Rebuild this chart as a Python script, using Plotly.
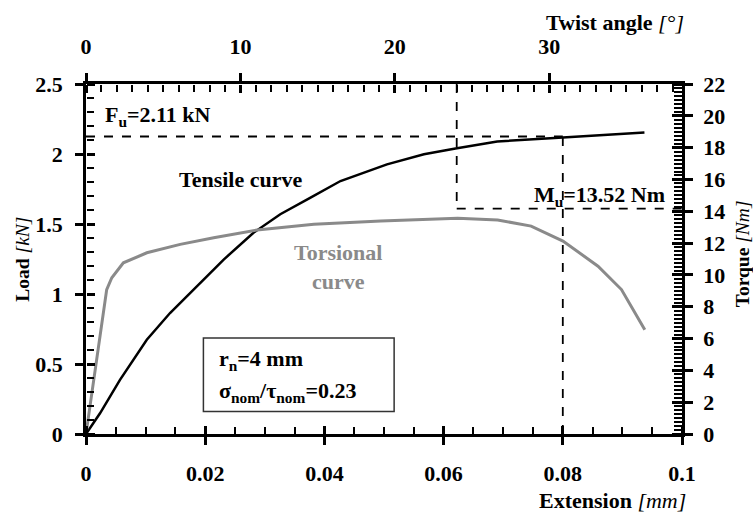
import plotly.graph_objects as go

# ---- data ----
ext_tensile = [0, 0.00235, 0.0057, 0.0102, 0.0141, 0.0186, 0.0231, 0.0281, 0.0326,
               0.0376, 0.0427, 0.0505, 0.0567, 0.062, 0.069, 0.08, 0.0886, 0.0937]
load_tensile = [0, 0.148, 0.387, 0.673, 0.864, 1.055, 1.246, 1.437, 1.57,
                1.687, 1.807, 1.926, 1.998, 2.04, 2.09, 2.118, 2.142, 2.154]

angle_torsion = [0, 1.34, 1.67, 2.42, 3.94, 6.1, 8.27, 11.08, 14.76, 19.09,
                 24.07, 26.66, 28.83, 30.89, 33.16, 34.68, 36.19]
torque_torsion = [0, 9.08, 9.82, 10.76, 11.39, 11.92, 12.34, 12.82, 13.18, 13.39,
                  13.56, 13.45, 13.07, 12.13, 10.55, 9.08, 6.56]

x_range = [0, 0.1]
y_range = [0, 2.5]
x2_range = [0, 38.6]
y2_range = [0, 22]
x_dtick, y_dtick, x2_dtick, y2_dtick = 0.02, 0.5, 10, 2
x_minor, y_minor, x2_minor, y2_minor = 0.005, 0.1, 1, 0.25

Fu = 2.125          # dashed level of ultimate load
ext_Fu = 0.08
ext_Mu = 0.0622
Mu_load_level = 1.61

FONT = "Liberation Serif"
FS = 22
LW = 2.5

fig = go.Figure()
fig.add_trace(go.Scatter(x=ext_tensile, y=load_tensile, mode="lines",
                         line=dict(color="black", width=2.5),
                         xaxis="x", yaxis="y", showlegend=False))
fig.add_trace(go.Scatter(x=angle_torsion, y=torque_torsion, mode="lines",
                         line=dict(color="#8a8a8a", width=3),
                         xaxis="x2", yaxis="y2", showlegend=False))

tickfont = dict(family=FONT, size=FS, color="black", weight="bold")

common = dict(showgrid=False, zeroline=False, showline=True, linecolor="black",
              linewidth=LW, ticks="outside", ticklen=8, tickwidth=LW,
              tickcolor="black", tickfont=tickfont, tickmode="linear", tick0=0)

fig.update_layout(
    width=753, height=512,
    margin=dict(l=86, r=71, t=84, b=78),
    plot_bgcolor="white", paper_bgcolor="white",
    xaxis=dict(range=x_range, dtick=x_dtick, anchor="y", side="bottom",
               ticklabelstandoff=10, **common),
    yaxis=dict(range=y_range, dtick=y_dtick, anchor="x", side="left",
               ticklabelstandoff=8, **common),
    xaxis2=dict(range=x2_range, dtick=x2_dtick, overlaying="x", anchor="y",
                side="top", ticklabelstandoff=10, **common),
    yaxis2=dict(range=y2_range, dtick=y2_dtick, overlaying="y", anchor="x",
                side="right", ticklabelstandoff=6, **common),
)

# inward-pointing ticks: free axes on the opposite side with outside ticks
def inward(rng, dt, mdt, side, pos, over, mw=2.2, mlen=7, col="black", mj=8):
    return dict(range=rng, dtick=dt, tick0=0, tickmode="linear", overlaying=over,
                anchor="free", position=pos, side=side, showgrid=False,
                zeroline=False, showline=False, ticks="outside", ticklen=mj,
                tickwidth=LW, tickcolor=col, showticklabels=False,
                minor=dict(tickmode="linear", tick0=0, dtick=mdt, ticks="outside",
                           ticklen=mlen, tickwidth=mw, tickcolor=col, showgrid=False))

fig.update_layout(
    xaxis3=inward(x_range, x_dtick, x_minor, "top", 0, "x"),
    yaxis3=inward(y_range, y_dtick, y_minor, "right", 0, "y"),
    xaxis4=inward(x2_range, x2_dtick, x2_minor, "bottom", 1, "x"),
    yaxis4=inward(y2_range, y2_dtick, y2_minor, "left", 1, "y", mw=1.6, mlen=8, mj=10),
)
fig.add_trace(go.Scatter(x=[None], y=[None], xaxis="x3", yaxis="y3", showlegend=False, hoverinfo="skip"))
fig.add_trace(go.Scatter(x=[None], y=[None], xaxis="x4", yaxis="y4", showlegend=False, hoverinfo="skip"))

dash = dict(color="black", width=1.8, dash="dash")
fig.add_shape(type="line", xref="x", yref="y", x0=0, x1=ext_Fu, y0=Fu, y1=Fu, line=dash)
fig.add_shape(type="line", xref="x", yref="y", x0=ext_Fu, x1=ext_Fu, y0=0, y1=Fu, line=dash)
fig.add_shape(type="line", xref="x", yref="y", x0=ext_Mu, x1=ext_Mu, y0=2.5, y1=Mu_load_level, line=dash)
fig.add_shape(type="line", xref="x", yref="y", x0=ext_Mu, x1=0.1, y0=Mu_load_level, y1=Mu_load_level, line=dash)

# info box
fig.add_shape(type="rect", xref="x", yref="y", x0=0.0197, x1=0.0517, y0=0.16, y1=0.686,
              line=dict(color="#333333", width=1.5), fillcolor="white", layer="above")

afont = dict(family=FONT, size=FS, color="black")
gfont = dict(family=FONT, size=FS, color="#8a8a8a")
tfont = dict(family=FONT, size=19.5, color="black")

def ann(text, x, y, xanchor="center", font=afont, xref="x", yref="y", textangle=0):
    fig.add_annotation(text=text, x=x, y=y, xref=xref, yref=yref, xanchor=xanchor,
                       yanchor="middle", showarrow=False, font=font, textangle=textangle)

ann("<b>F<sub>u</sub>=2.11 kN</b>", 0.0029, 2.27, "left")
ann("<b>M<sub>u</sub>=13.52 Nm</b>", 0.0975, 1.70, "right")
ann("<b>Tensile curve</b>", 0.026, 1.82)
ann("<b>Torsional<br>curve</b>", 0.0422, 1.19, font=gfont)
ann("<b>r<sub>n</sub>=4 mm</b>", 0.022, 0.53, "left")
ann("<b>σ<sub>nom</sub>/τ<sub>nom</sub>=0.23</b>", 0.022, 0.30, "left")

ann("<b>Twist angle</b> <i>[°]</i>", 1.007, 1.176, "right", xref="paper", yref="paper")
ann("<b>Extension</b> <i>[mm]</i>", 1.01, -0.19, "right", xref="paper", yref="paper")
ann("<b>Load</b> <i>[kN]</i>", -0.108, 0.5, "center", font=tfont, xref="paper", yref="paper", textangle=-90)
ann("<b>Torque</b> <i>[Nm]</i>", 1.101, 0.514, "center", font=tfont, xref="paper", yref="paper", textangle=-90)

fig.write_html("out.html", config={"displayModeBar": False},
               post_script="document.body.style.margin='0px';")
